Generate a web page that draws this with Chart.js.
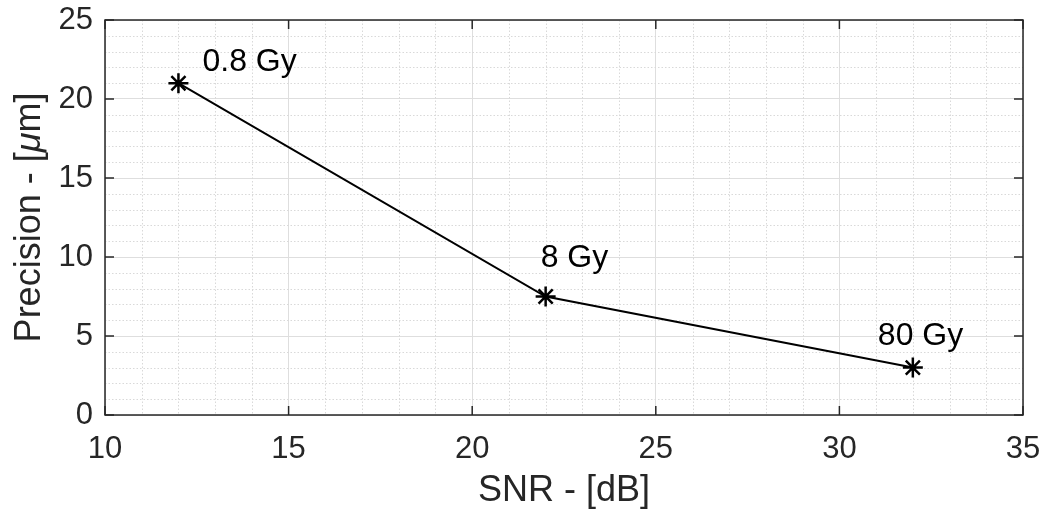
<!DOCTYPE html>
<html>
<head>
<meta charset="utf-8">
<script src="https://cdn.jsdelivr.net/npm/chart.js@4.4.0/dist/chart.umd.min.js"></script>
<style>
  html, body { margin: 0; padding: 0; background: #fff; }
  #wrap { width: 1048px; height: 515px; }
</style>
</head>
<body>
<div id="wrap"><canvas id="c" width="1048" height="515"></canvas></div>
<script>
// Données du graphique
const snrValues = [12, 22, 32];
const precisionValues = [21, 7.5, 3];
const doseLabels = ['0.8 Gy', '8 Gy', '80 Gy'];
const xTicks = [10, 15, 20, 25, 30, 35];
const yTicks = [0, 5, 10, 15, 20, 25];

const FONT = 'Liberation Sans, Arial, Helvetica, sans-serif';
const AXIS_COLOR = '#262626';

// grille mineure, cadre et graduations intérieures (style MATLAB)
const matlabFrame = {
  id: 'matlabFrame',
  beforeDatasetsDraw(chart) {
    const { ctx, chartArea: a, scales: { x, y } } = chart;
    ctx.save();
    ctx.strokeStyle = '#d9d9d9';
    ctx.lineWidth = 1;
    ctx.setLineDash([1.5, 2]);
    for (let v = x.min + 1; v < x.max; v++) {
      if (v % 5 === 0) continue;
      const px = Math.round(x.getPixelForValue(v)) + 0.5;
      ctx.beginPath(); ctx.moveTo(px, a.top); ctx.lineTo(px, a.bottom); ctx.stroke();
    }
    for (let v = y.min + 1; v < y.max; v++) {
      if (v % 5 === 0) continue;
      const py = Math.round(y.getPixelForValue(v)) + 0.5;
      ctx.beginPath(); ctx.moveTo(a.left, py); ctx.lineTo(a.right, py); ctx.stroke();
    }
    ctx.setLineDash([]);
    ctx.strokeStyle = AXIS_COLOR;
    ctx.lineWidth = 1.5;
    ctx.strokeRect(a.left, a.top, a.right - a.left, a.bottom - a.top);
    const tl = 9;
    xTicks.forEach(v => {
      const px = x.getPixelForValue(v);
      ctx.beginPath(); ctx.moveTo(px, a.bottom); ctx.lineTo(px, a.bottom - tl); ctx.stroke();
      ctx.beginPath(); ctx.moveTo(px, a.top); ctx.lineTo(px, a.top + tl); ctx.stroke();
    });
    yTicks.forEach(v => {
      const py = y.getPixelForValue(v);
      ctx.beginPath(); ctx.moveTo(a.left, py); ctx.lineTo(a.left + tl, py); ctx.stroke();
      ctx.beginPath(); ctx.moveTo(a.right, py); ctx.lineTo(a.right - tl, py); ctx.stroke();
    });
    ctx.restore();
  },
  afterDatasetsDraw(chart) {
    const { ctx, chartArea: a, scales: { x, y } } = chart;
    const offsets = [[24, -21], [-5, -38], [-35, -31]];
    ctx.save();
    ctx.fillStyle = '#000';
    ctx.font = '32px ' + FONT;
    ctx.textBaseline = 'middle';
    ctx.textAlign = 'left';
    doseLabels.forEach((txt, i) => {
      const px = x.getPixelForValue(snrValues[i]);
      const py = y.getPixelForValue(precisionValues[i]);
      ctx.fillText(txt, px + offsets[i][0], py + offsets[i][1]);
    });
    // titre de l'axe Y avec mu en italique
    const parts = [['Precision - [', ''], ['\u03bc', 'italic '], ['m]', '']];
    ctx.fillStyle = AXIS_COLOR;
    ctx.translate(30, (a.top + a.bottom) / 2);
    ctx.rotate(-Math.PI / 2);
    let total = 0;
    parts.forEach(p => { ctx.font = p[1] + '36px ' + FONT; total += ctx.measureText(p[0]).width; });
    let cx = -total / 2;
    parts.forEach(p => {
      ctx.font = p[1] + '36px ' + FONT;
      ctx.fillText(p[0], cx, 0);
      cx += ctx.measureText(p[0]).width;
    });
    ctx.restore();
  }
};

new Chart(document.getElementById('c'), {
  type: 'scatter',
  data: {
    datasets: [{
      data: snrValues.map((v, i) => ({ x: v, y: precisionValues[i] })),
      showLine: true,
      borderColor: '#000',
      borderWidth: 2,
      pointStyle: 'star',
      pointRadius: 10,
      pointBorderWidth: 2.5,
      pointBorderColor: '#000',
      pointBackgroundColor: '#000'
    }]
  },
  options: {
    responsive: false,
    animation: false,
    layout: { padding: { top: 20, right: 25, left: 0, bottom: 0 } },
    plugins: { legend: { display: false }, tooltip: { enabled: false } },
    scales: {
      x: {
        type: 'linear', min: 10, max: 35,
        afterBuildTicks: s => { s.ticks = xTicks.map(v => ({ value: v })); },
        afterFit: s => { s.height = 100; s.paddingLeft = 0; s.paddingRight = 0; },
        grid: { color: '#dedede', lineWidth: 1, drawTicks: false },
        border: { display: false },
        ticks: { color: AXIS_COLOR, font: { family: FONT, size: 31 }, padding: 16, maxRotation: 0 },
        title: { display: true, text: 'SNR - [dB]', color: AXIS_COLOR, font: { family: FONT, size: 36 }, padding: { top: 4, bottom: 2 } }
      },
      y: {
        type: 'linear', min: 0, max: 25,
        afterBuildTicks: s => { s.ticks = yTicks.map(v => ({ value: v })); },
        afterFit: s => { s.width = 105; s.paddingTop = 0; s.paddingBottom = 0; },
        grid: { color: '#dedede', lineWidth: 1, drawTicks: false },
        border: { display: false },
        ticks: { color: AXIS_COLOR, font: { family: FONT, size: 31 }, padding: 12 }
      }
    }
  },
  plugins: [matlabFrame]
});
</script>
</body>
</html>
